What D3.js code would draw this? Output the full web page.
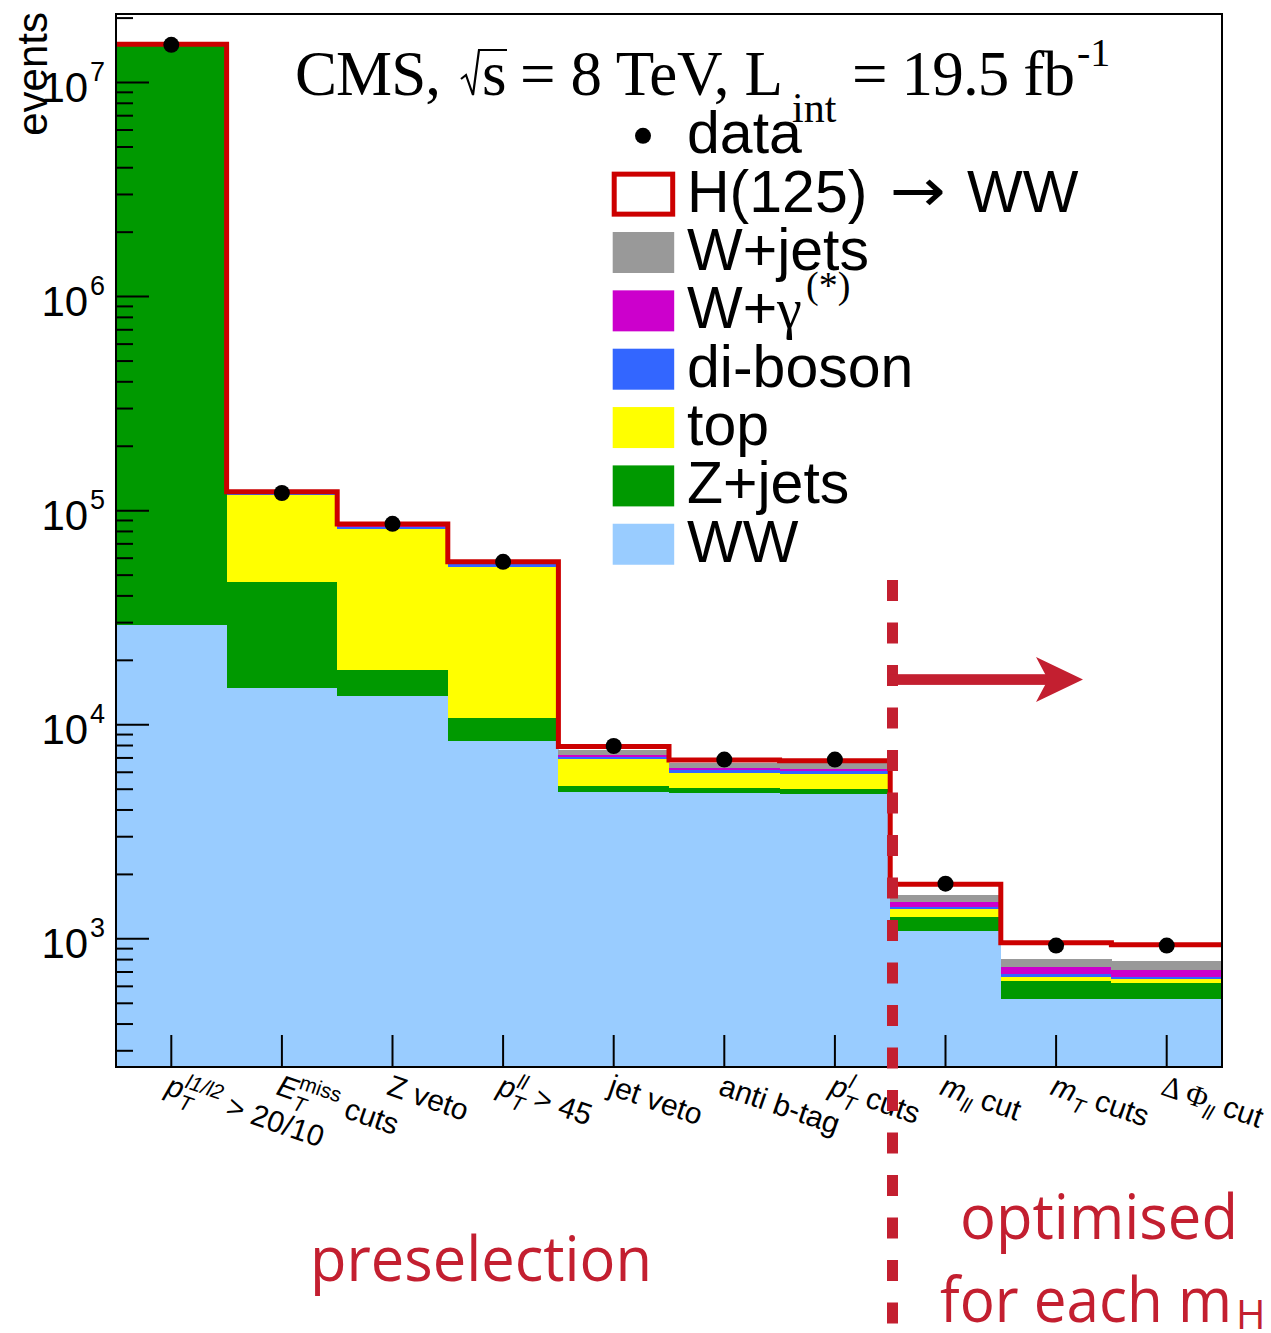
<!DOCTYPE html>
<html>
<head>
<meta charset="utf-8">
<script src="https://cdn.jsdelivr.net/npm/d3@7"></script>
<style>
  body { margin: 0; background: #fff; }
  svg { display: block; }
</style>
</head>
<body>
<svg id="chart" width="1271" height="1333"></svg>
<script>
// ---- event yields after each selection step (CMS H->WW, 8 TeV, 19.5 fb^-1) ----
const cuts = ["pt", "met", "zveto", "ptll", "jetveto", "antib", "ptl", "mll", "mt", "dphi"];

const ww      = [29300, 14860, 13600, 8400, 4840, 4786, 4760, 1093, 523, 523];
const zjets   = [14950000, 31500, 4400, 2370, 356, 267, 265, 170, 114, 98];
const topq    = [120000, 71600, 64000, 43800, 1704, 884, 870, 117, 30, 30];
const diboson = [1500, 2000, 2000, 1500, 196, 214, 212, 35, 17, 16];
const wgamma  = [1000, 600, 600, 400, 150, 114, 112, 79, 51, 50];
const wjets   = [3000, 1500, 1500, 800, 375, 388, 380, 111, 71, 72];
const higgs   = [600, 600, 600, 500, 285, 196, 200, 195, 152, 149];
const data    = [15000000, 121000, 86800, 57700, 7960, 6880, 6880, 1810, 930, 930];

const yTickValues = [1e3, 1e4, 1e5, 1e6, 1e7];

// selection-step labels: pieces of rich text (pos: base / sub / sup)
const cutLabels = [
  [{t: "p", it: 1}, {t: "T", pos: "sub", it: 1, stack: 1}, {t: "l1/l2", pos: "sup", it: 1}, {t: " > 20/10"}],
  [{t: "E", it: 1}, {t: "T", pos: "sub", it: 1, stack: 1}, {t: "miss", pos: "sup"}, {t: " cuts"}],
  [{t: "Z veto"}],
  [{t: "p", it: 1}, {t: "T", pos: "sub", it: 1, stack: 1}, {t: "ll", pos: "sup", it: 1}, {t: " > 45"}],
  [{t: "jet veto"}],
  [{t: "anti b-tag"}],
  [{t: "p", it: 1}, {t: "T", pos: "sub", it: 1, stack: 1}, {t: "l", pos: "sup", it: 1}, {t: " cuts"}],
  [{t: "m", it: 1}, {t: "ll", pos: "sub", it: 1}, {t: " cut"}],
  [{t: "m", it: 1}, {t: "T", pos: "sub", it: 1}, {t: " cuts"}],
  [{t: "Δ ", serif: 1}, {t: "Φ", serif: 1}, {t: "ll", pos: "sub", it: 1}, {t: " cut"}]
];

const keys = ["WW", "Z+jets", "top", "di-boson", "W+γ", "W+jets", "H"];
const seriesArrays = [ww, zjets, topq, diboson, wgamma, wjets, higgs];
const fillColors = {
  "WW": "#99ccff", "Z+jets": "#009900", "top": "#ffff00",
  "di-boson": "#3366ff", "W+γ": "#cc00cc", "W+jets": "#999999"
};
const signalColor = "#cc0000";
const accent = "#c31f30";

const SANS = "'Liberation Sans', Arial, Helvetica, sans-serif";
const SERIF = "'Liberation Serif', 'Times New Roman', serif";

// ---- layout ----
const frame = {left: 116, right: 1222, top: 14, bottom: 1067};
const svg = d3.select("#chart");

const x = d3.scaleBand().domain(cuts).range([frame.left, frame.right]).padding(0);
const y = d3.scaleLog().domain([252, 2.09e7]).range([frame.bottom, frame.top]).clamp(true);

const table = cuts.map((c, i) => {
  const row = {cut: c};
  keys.forEach((k, j) => { row[k] = seriesArrays[j][i]; });
  return row;
});
const stacked = d3.stack().keys(keys)(table);

svg.append("defs").append("clipPath").attr("id", "plotclip")
  .append("rect")
  .attr("x", frame.left).attr("y", frame.top)
  .attr("width", frame.right - frame.left).attr("height", frame.bottom - frame.top);

const plot = svg.append("g").attr("clip-path", "url(#plotclip)");

// stacked background histograms
stacked.filter(l => l.key !== "H").forEach(layer => {
  plot.append("g").selectAll("rect").data(layer).join("rect")
    .attr("shape-rendering", "crispEdges")
    .attr("x", (d, i) => x(cuts[i]))
    .attr("width", x.bandwidth() + 0.6)
    .attr("y", d => y(d[1]))
    .attr("height", d => Math.max(0, y(Math.max(d[0], 1)) - y(d[1])))
    .attr("fill", fillColors[layer.key]);
});

// signal stacked on top: outline of the total
const hLayer = stacked.find(l => l.key === "H");
const stepPts = hLayer.map((d, i) => [x(cuts[i]), y(d[1])]);
stepPts.push([frame.right, y(hLayer[hLayer.length - 1][1])]);
plot.append("path")
  .attr("d", d3.line().curve(d3.curveStepAfter)(stepPts))
  .attr("fill", "none")
  .attr("stroke", signalColor)
  .attr("stroke-width", 5)
  .attr("stroke-linejoin", "miter");

// data points
plot.append("g").selectAll("circle").data(data).join("circle")
  .attr("cx", (d, i) => x(cuts[i]) + x.bandwidth() / 2)
  .attr("cy", d => y(d))
  .attr("r", 8)
  .attr("fill", "#000");

// frame
svg.append("rect")
  .attr("x", frame.left).attr("y", frame.top)
  .attr("width", frame.right - frame.left).attr("height", frame.bottom - frame.top)
  .attr("fill", "none").attr("stroke", "#000").attr("stroke-width", 2);

// y ticks (major + minor), drawn inward
const allTicks = y.ticks().filter(v => v >= y.domain()[0] && v <= y.domain()[1]);
svg.append("g").selectAll("line").data(allTicks).join("line")
  .attr("x1", frame.left)
  .attr("x2", v => frame.left + (yTickValues.includes(v) ? 33 : 17))
  .attr("y1", v => y(v)).attr("y2", v => y(v))
  .attr("stroke", "#000").attr("stroke-width", 2);

// y tick labels 10^n
const yLab = svg.append("g").attr("font-family", SANS).attr("fill", "#000");
yTickValues.forEach(v => {
  const t = yLab.append("text").attr("y", y(v) + 19).attr("font-size", 42);
  t.append("tspan").attr("x", 41.5).text("10");
  t.append("tspan").attr("x", 90).attr("dy", -21).attr("font-size", 27).text(Math.round(Math.log10(v)));
});

// y axis title
svg.append("text")
  .attr("transform", "translate(47,12) rotate(-90)")
  .attr("text-anchor", "end")
  .attr("font-family", SANS).attr("font-size", 42)
  .text("events");

// x ticks at bin centres, pointing up
svg.append("g").selectAll("line").data(cuts).join("line")
  .attr("x1", c => x(c) + x.bandwidth() / 2).attr("x2", c => x(c) + x.bandwidth() / 2)
  .attr("y1", frame.bottom).attr("y2", frame.bottom - 32)
  .attr("stroke", "#000").attr("stroke-width", 2);

// rich text helper: lays pieces out left to right, sub/sup stacked when flagged
function richText(g, parts, size) {
  let cx = 0, held = 0;
  parts.forEach(p => {
    const pos = p.pos || "base";
    const fs = pos === "base" ? size : size * 0.7;
    const dy = pos === "sub" ? size * 0.3 : pos === "sup" ? -size * 0.42 : 0;
    const t = g.append("text")
      .attr("x", cx).attr("y", dy)
      .attr("font-size", fs)
      .attr("font-family", p.serif ? SERIF : SANS)
      .attr("font-style", p.it ? "italic" : "normal")
      .attr("xml:space", "preserve")
      .style("white-space", "pre")
      .text(p.t);
    const w = t.node().getComputedTextLength();
    if (p.stack) { held = w; }
    else { cx += Math.max(w, held); held = 0; }
  });
}

// x labels, rotated
cuts.forEach((c, i) => {
  const cxp = x(c) + x.bandwidth() / 2;
  const g = svg.append("g")
    .attr("transform", `translate(${cxp - 7},${frame.bottom + 27}) rotate(19)`);
  richText(g, cutLabels[i], 30);
});

// ---- title ----
const title = svg.append("g").attr("font-family", SERIF).attr("fill", "#000");
title.append("text").attr("x", 295).attr("y", 95).attr("font-size", 63)
  .attr("textLength", 146).attr("lengthAdjust", "spacing").text("CMS,");
title.append("path").attr("d", "M461,79 L466,75 L473,95 L479,50 L507,50")
  .attr("fill", "none").attr("stroke", "#000").attr("stroke-width", 2.2);
title.append("text").attr("x", 482).attr("y", 95).attr("font-size", 63).text("s");
title.append("text").attr("x", 520).attr("y", 95).attr("font-size", 63)
  .attr("textLength", 263).attr("lengthAdjust", "spacing").text("= 8 TeV, L");
title.append("text").attr("x", 792).attr("y", 122).attr("font-size", 42).text("int");
title.append("text").attr("x", 852).attr("y", 95).attr("font-size", 63)
  .attr("textLength", 223).attr("lengthAdjust", "spacing").text("= 19.5 fb");
title.append("text").attr("x", 1077).attr("y", 66).attr("font-size", 40).text("-1");

// ---- legend ----
const legendNames = ["data", "H(125)", "W+jets", "W+γ", "di-boson", "top", "Z+jets", "WW"];
const leg = svg.append("g").attr("font-family", SANS).attr("font-size", 59).attr("fill", "#000");
const rowY = i => 135.8 + i * 58.35;
const boxX = 612.7, boxW = 61.5, boxH = 41, textX = 687;

legendNames.forEach((name, i) => {
  const cy = rowY(i);
  if (i === 0) {
    leg.append("circle").attr("cx", 643).attr("cy", cy).attr("r", 8).attr("fill", "#000");
  } else if (i === 1) {
    leg.append("rect").attr("x", boxX + 1.5).attr("y", cy - boxH / 2 + 0.5)
      .attr("width", boxW - 3).attr("height", boxH - 1)
      .attr("fill", "none").attr("stroke", signalColor).attr("stroke-width", 5);
  } else {
    leg.append("rect").attr("x", boxX).attr("y", cy - boxH / 2)
      .attr("width", boxW).attr("height", boxH)
      .attr("fill", fillColors[name]);
  }
  const base = cy + 17.4;
  if (i === 1) {
    leg.append("text").attr("x", textX).attr("y", base).text("H(125)");
    leg.append("text").attr("x", 890).attr("y", base - 1).attr("font-family", "'DejaVu Sans', sans-serif")
      .attr("font-size", 60).attr("textLength", 56).attr("lengthAdjust", "spacingAndGlyphs").text("→");
    leg.append("text").attr("x", 967).attr("y", base).text("WW");
  } else if (i === 3) {
    leg.append("text").attr("x", textX).attr("y", base).text("W+");
    leg.append("text").attr("x", 777).attr("y", base).attr("font-family", SERIF)
      .attr("font-size", 56).text("γ");
    leg.append("text").attr("x", 806).attr("y", base - 30).attr("font-family", SERIF)
      .attr("font-size", 38).text("(*)");
  } else {
    leg.append("text").attr("x", textX).attr("y", base).text(name);
  }
});

// ---- selection regions annotation ----
svg.append("line")
  .attr("x1", 892.5).attr("x2", 892.5).attr("y1", 580).attr("y2", 1333)
  .attr("stroke", accent).attr("stroke-width", 11).attr("stroke-dasharray", "21 21.5");

svg.append("rect").attr("x", 887).attr("y", 674.2).attr("width", 163).attr("height", 10.7).attr("fill", accent);
svg.append("path").attr("d", "M1036,657 L1083,679.5 L1036,702 L1048,679.5 Z").attr("fill", accent);

const OPEN = "'Open Sans', 'Noto Sans', sans-serif";
svg.append("text").attr("x", 310).attr("y", 1281).attr("font-family", OPEN)
  .attr("font-size", 62).attr("fill", accent)
  .attr("textLength", 342).attr("lengthAdjust", "spacingAndGlyphs").text("preselection");
svg.append("text").attr("x", 960).attr("y", 1239).attr("font-family", OPEN)
  .attr("font-size", 62).attr("fill", accent)
  .attr("textLength", 278).attr("lengthAdjust", "spacingAndGlyphs").text("optimised");
const fe = svg.append("text").attr("y", 1322).attr("font-family", OPEN)
  .attr("font-size", 62).attr("fill", accent);
fe.append("tspan").attr("x", 940).attr("textLength", 292).attr("lengthAdjust", "spacingAndGlyphs").text("for each m");
fe.append("tspan").attr("x", 1236).attr("dy", 7).attr("font-size", 40).text("H");
</script>
</body>
</html>
